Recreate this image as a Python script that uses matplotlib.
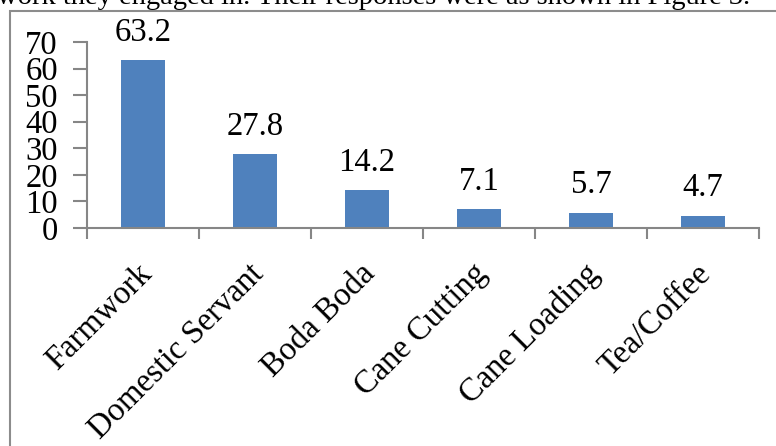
import matplotlib.pyplot as plt
import matplotlib.transforms as mtransforms
from matplotlib.patches import Rectangle

categories = ["Farmwork", "Domestic Servant", "Boda Boda",
              "Cane Cutting", "Cane Loading", "Tea/Coffee"]
values = [63.2, 27.8, 14.2, 7.1, 5.7, 4.7]
yticks = [0, 10, 20, 30, 40, 50, 60, 70]

plt.rcParams['font.family'] = ['Liberation Serif', 'DejaVu Serif']

W, H = 776, 446
fig = plt.figure(figsize=(W / 100, H / 100), dpi=100)

# frame of the chart object (cut off right and bottom)
fig.patches.append(Rectangle((10 / W, -0.1), 1.2, 1.1 - 11 / H,
                             transform=fig.transFigure, fill=False,
                             edgecolor='#8c8c8c', linewidth=1.5))

# paragraph text cut at the top
fig.text(-3 / W, 1 - 4 / H, "work they engaged in. Their responses were as shown in Figure 3.",
         fontsize=20.5, va='baseline', ha='left', color='black')

ax = fig.add_axes([87 / W, 218 / H, 672 / W, 186 / H])
x = list(range(len(categories)))
bars = ax.bar(x, values, width=0.4, color='#4f81bd', zorder=2)
ax.bar_label(bars, labels=[f"{v:.1f}" for v in values], padding=9, fontsize=23.5)

ax.set_xlim(-0.5, len(categories) - 0.5)
ax.set_ylim(0, 70)
ax.set_yticks(yticks)

axis_col = '#868686'
for s in ['top', 'right']:
    ax.spines[s].set_visible(False)
for s in ['left', 'bottom']:
    ax.spines[s].set_color(axis_col)
    ax.spines[s].set_linewidth(1.5)

ax.tick_params(axis='y', direction='out', length=10, width=1.5, color=axis_col,
               labelsize=23.5, pad=11)
ax.set_xticks(x)
ax.set_xticks([i + 0.5 for i in range(-1, len(categories))], minor=True)
ax.tick_params(axis='x', which='major', length=0, pad=22)
ax.tick_params(axis='x', which='minor', direction='out', length=8, width=1.5,
               color=axis_col)
ax.set_xticklabels(categories, rotation=45, ha='right', rotation_mode='anchor',
                   fontsize=23.5)
offset = mtransforms.ScaledTranslation(-7 / 100, 0, fig.dpi_scale_trans)
for lab in ax.get_xticklabels():
    lab.set_transform(lab.get_transform() + offset)

fig.savefig("out.png", dpi=100)
